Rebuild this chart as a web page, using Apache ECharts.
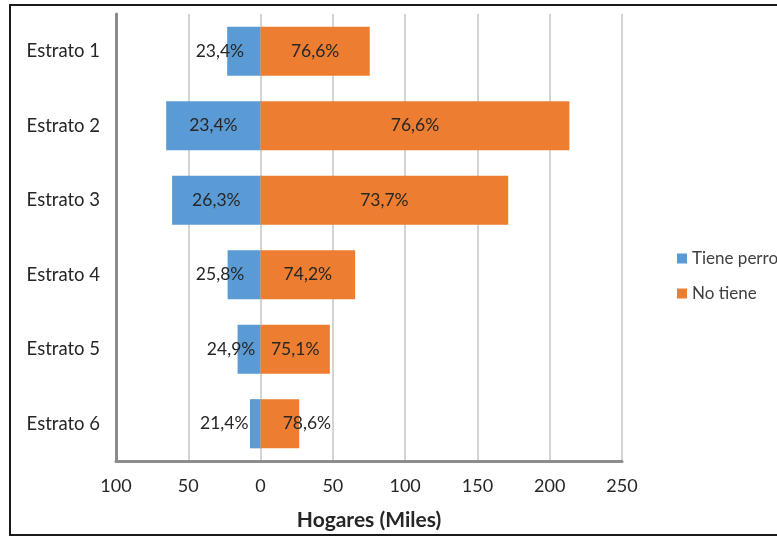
<!DOCTYPE html>
<html>
<head>
<meta charset="utf-8">
<script src="https://cdn.jsdelivr.net/npm/echarts@6/dist/echarts.min.js"></script>
<style>
html,body{margin:0;padding:0;background:#fff;}
#chart{width:777px;height:539px;}
</style>
</head>
<body>
<div id="chart"></div>
<script>
const categories = ['Estrato 1','Estrato 2','Estrato 3','Estrato 4','Estrato 5','Estrato 6'];
const tienePerro = [23.1, 65.3, 61.2, 22.8, 15.9, 7.3];
const noTiene = [75.5, 213.6, 171.3, 65.4, 47.9, 26.7];
const pctTiene = [23.4, 23.4, 26.3, 25.8, 24.9, 21.4];
const pctNo = [76.6, 76.6, 73.7, 74.2, 75.1, 78.6];
const xTicks = [-100, -50, 0, 50, 100, 150, 200, 250];

// label nudges (style only)
const blueShift = [-24, 0, 0, -24, -18, -31];
const orangeShift = [0, 0, 0, 0, 0, 27];

const FONT = 'Lato';
const fmtPct = v => v.toFixed(1).replace('.', ',') + '%';

const chart = echarts.init(document.getElementById('chart'));
chart.setOption({
  animation: false,
  textStyle: {fontFamily: FONT},
  graphic: [{
    type: 'rect', z: 100, silent: true,
    shape: {x: 10, y: 5, width: 800, height: 530},
    style: {fill: 'none', stroke: '#1a1a1a', lineWidth: 2}
  }],
  grid: {left: 116, right: 155, top: 14, bottom: 78},
  legend: {
    orient: 'vertical', left: 672, top: 245,
    itemWidth: 10, itemHeight: 10, itemGap: 18, icon: 'rect',
    textStyle: {fontFamily: FONT, fontSize: 17, color: '#404040'},
    data: ['Tiene perro', 'No tiene']
  },
  xAxis: {
    type: 'value', min: -100, max: 250, interval: 50,
    name: 'Hogares (Miles)', nameLocation: 'middle', nameGap: 49,
    nameTextStyle: {fontFamily: FONT, fontSize: 21, fontWeight: 'bold', color: '#262626'},
    axisLine: {show: true, onZero: false, lineStyle: {color: '#8c8c8c', width: 3}},
    axisTick: {show: false},
    axisLabel: {
      margin: 16, fontSize: 18, color: '#262626', fontFamily: FONT,
      formatter: v => xTicks.includes(v) ? String(Math.abs(v)) : ''
    },
    splitLine: {show: true, lineStyle: {color: '#c6c6c6', width: 1.5}}
  },
  yAxis: {
    type: 'category', data: categories, inverse: true,
    axisLine: {show: true, onZero: false, lineStyle: {color: '#8c8c8c', width: 3}},
    axisTick: {show: false},
    axisLabel: {margin: 16, fontSize: 18.5, color: '#262626', fontFamily: FONT}
  },
  series: [
    {
      name: 'Tiene perro', type: 'bar', stack: 'total', barCategoryGap: '34%',
      itemStyle: {color: '#5B9BD5'},
      data: tienePerro.map((v, i) => ({
        value: -v,
        label: {offset: [blueShift[i], 0]}
      })),
      label: {
        show: true, position: 'inside', fontSize: 17.5, color: '#262626', fontFamily: FONT,
        formatter: p => fmtPct(pctTiene[p.dataIndex])
      }
    },
    {
      name: 'No tiene', type: 'bar', stack: 'total', barCategoryGap: '34%',
      itemStyle: {color: '#ED7D31'},
      data: noTiene.map((v, i) => ({
        value: v,
        label: {offset: [orangeShift[i], 0]}
      })),
      label: {
        show: true, position: 'inside', fontSize: 17.5, color: '#262626', fontFamily: FONT,
        formatter: p => fmtPct(pctNo[p.dataIndex])
      }
    }
  ]
});
</script>
</body>
</html>
